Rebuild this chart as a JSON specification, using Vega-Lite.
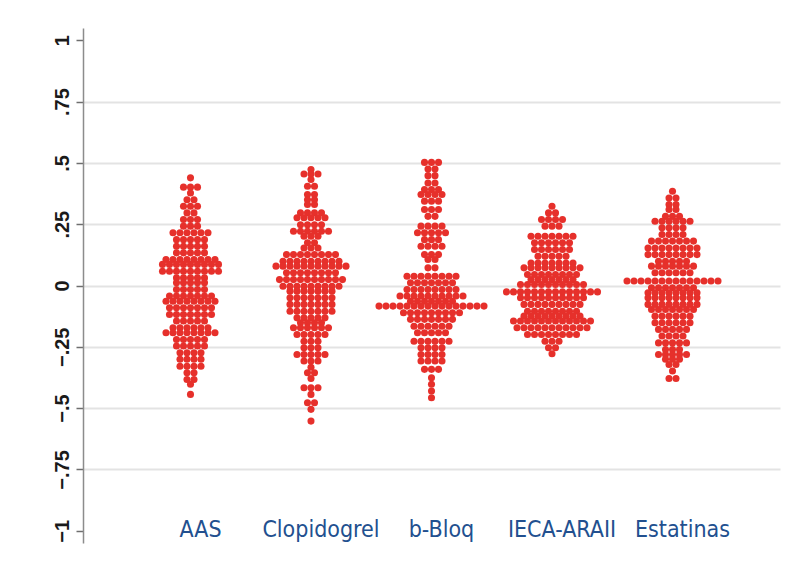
{
  "$schema": "https://vega.github.io/schema/vega-lite/v6.json",
  "autosize": {"type": "none"},
  "width": 697,
  "height": 515,
  "padding": {"left": 83, "top": 28, "right": 14, "bottom": 22},
  "background": "#ffffff",
  "datasets": {
    "AAS": [0.439,
      0.401,0.401,0.401,
      0.377,
      0.35,0.35,
      0.323,0.323,0.323,
      0.296,0.296,
      0.269,0.269,0.269,
      0.242,0.242,0.242,
      0.215,0.215,0.215,0.215,0.215,0.215,
      0.187,0.187,0.187,0.187,0.187,
      0.16,0.16,0.16,0.16,0.16,
      0.133,0.133,0.133,0.133,0.133,
      0.106,0.106,0.106,0.106,0.106,0.106,0.106,0.106,
      0.086,0.086,0.086,0.086,0.086,0.086,0.086,0.086,0.086,
      0.058,0.058,0.058,0.058,0.058,0.058,0.058,0.058,0.058,
      0.031,0.031,0.031,0.031,0.031,
      0.011,0.011,0.011,0.011,0.011,
      -0.016,-0.016,-0.016,-0.016,-0.016,
      -0.043,-0.043,-0.043,-0.043,-0.043,-0.043,-0.043,
      -0.064,-0.064,-0.064,-0.064,-0.064,-0.064,-0.064,-0.064,
      -0.091,-0.091,-0.091,-0.091,-0.091,-0.091,-0.091,
      -0.118,-0.118,-0.118,-0.118,-0.118,-0.118,-0.118,
      -0.145,-0.145,-0.145,-0.145,-0.145,
      -0.172,-0.172,-0.172,-0.172,-0.172,-0.172,
      -0.193,-0.193,-0.193,-0.193,-0.193,-0.193,-0.193,-0.193,
      -0.22,-0.22,-0.22,-0.22,-0.22,
      -0.247,-0.247,-0.247,-0.247,-0.247,
      -0.274,-0.274,-0.274,-0.274,
      -0.301,-0.301,-0.301,-0.301,
      -0.329,-0.329,-0.329,-0.329,
      -0.356,-0.356,
      -0.383,-0.383,
      -0.403,
      -0.444],
    "Clopidogrel": [0.473,
      0.455,0.455,0.455,
      0.432,
      0.405,0.405,
      0.371,0.371,
      0.35,0.35,
      0.33,0.33,
      0.296,0.296,0.296,0.296,
      0.276,0.276,0.276,0.276,0.276,
      0.248,0.248,0.248,0.248,
      0.221,0.221,0.221,0.221,0.221,0.221,
      0.201,0.201,0.201,
      0.174,0.174,
      0.153,0.153,0.153,
      0.126,0.126,0.126,0.126,0.126,0.126,0.126,0.126,
      0.099,0.099,0.099,0.099,0.099,0.099,0.099,0.099,0.099,
      0.079,0.079,0.079,0.079,0.079,0.079,0.079,0.079,0.079,0.079,0.079,
      0.052,0.052,0.052,0.052,0.052,0.052,0.052,0.052,
      0.024,0.024,0.024,0.024,0.024,0.024,0.024,0.024,0.024,0.024,
      -0.003,-0.003,-0.003,-0.003,-0.003,-0.003,-0.003,-0.003,-0.003,
      -0.023,-0.023,-0.023,-0.023,-0.023,-0.023,-0.023,
      -0.05,-0.05,-0.05,-0.05,-0.05,-0.05,-0.05,
      -0.077,-0.077,-0.077,-0.077,-0.077,-0.077,-0.077,
      -0.105,-0.105,-0.105,-0.105,-0.105,-0.105,-0.105,
      -0.132,-0.132,-0.132,-0.132,-0.132,
      -0.152,-0.152,-0.152,-0.152,
      -0.172,-0.172,-0.172,-0.172,-0.172,-0.172,
      -0.2,-0.2,-0.2,-0.2,-0.2,
      -0.227,-0.227,-0.227,
      -0.254,-0.254,-0.254,
      -0.281,-0.281,-0.281,-0.281,-0.281,
      -0.308,-0.308,-0.308,
      -0.333,
      -0.356,-0.356,
      -0.379,
      -0.417,-0.417,-0.417,
      -0.444,
      -0.478,-0.478,
      -0.505,
      -0.553],
    "bBloq": [0.502,0.502,0.502,
      0.475,0.475,
      0.448,0.448,
      0.418,0.418,
      0.391,0.391,0.391,
      0.371,0.371,0.371,0.371,
      0.344,0.344,0.344,
      0.31,0.31,0.31,
      0.282,0.282,
      0.242,0.242,0.242,0.242,
      0.215,0.215,0.215,0.215,0.215,
      0.187,0.187,0.187,
      0.16,0.16,0.16,0.16,
      0.126,0.126,0.126,
      0.106,0.106,
      0.072,0.072,
      0.038,0.038,0.038,0.038,0.038,0.038,0.038,0.038,
      0.011,0.011,0.011,0.011,0.011,0.011,0.011,
      -0.016,-0.016,-0.016,-0.016,-0.016,-0.016,-0.016,-0.016,
      -0.043,-0.043,-0.043,-0.043,-0.043,-0.043,-0.043,-0.043,-0.043,-0.043,
      -0.064,-0.064,-0.064,-0.064,-0.064,-0.064,-0.064,
      -0.084,-0.084,-0.084,-0.084,-0.084,-0.084,-0.084,-0.084,-0.084,-0.084,-0.084,-0.084,-0.084,-0.084,-0.084,-0.084,
      -0.111,-0.111,-0.111,-0.111,-0.111,-0.111,-0.111,-0.111,-0.111,
      -0.138,-0.138,-0.138,-0.138,-0.138,-0.138,-0.138,
      -0.166,-0.166,-0.166,-0.166,-0.166,-0.166,
      -0.193,-0.193,-0.193,-0.193,-0.193,
      -0.227,-0.227,-0.227,-0.227,-0.227,-0.227,
      -0.254,-0.254,-0.254,-0.254,
      -0.281,-0.281,-0.281,-0.281,
      -0.308,-0.308,-0.308,-0.308,
      -0.342,-0.342,-0.342,
      -0.376,
      -0.403,
      -0.43,
      -0.458],
    "IECA": [0.323,
      0.296,0.296,
      0.269,0.269,0.269,0.269,
      0.242,0.242,0.242,
      0.201,0.201,0.201,0.201,0.201,0.201,0.201,
      0.174,0.174,0.174,0.174,0.174,0.174,
      0.147,0.147,0.147,0.147,0.147,0.147,
      0.119,0.119,0.119,0.119,0.119,
      0.092,0.092,0.092,0.092,0.092,0.092,0.092,
      0.072,0.072,0.072,0.072,0.072,0.072,0.072,0.072,0.072,
      0.045,0.045,0.045,0.045,0.045,0.045,0.045,0.045,
      0.024,0.024,0.024,0.024,0.024,0.024,0.024,
      0.004,0.004,0.004,0.004,0.004,0.004,0.004,0.004,0.004,0.004,
      -0.026,-0.026,-0.026,-0.026,-0.026,-0.026,-0.026,-0.026,-0.026,-0.026,-0.026,-0.026,-0.026,-0.026,
      -0.05,-0.05,-0.05,-0.05,-0.05,-0.05,-0.05,-0.05,-0.05,-0.05,
      -0.077,-0.077,-0.077,-0.077,-0.077,-0.077,-0.077,-0.077,-0.077,
      -0.105,-0.105,-0.105,-0.105,-0.105,-0.105,-0.105,-0.105,
      -0.125,-0.125,-0.125,-0.125,-0.125,-0.125,-0.125,-0.125,-0.125,
      -0.145,-0.145,-0.145,-0.145,-0.145,-0.145,-0.145,-0.145,-0.145,-0.145,-0.145,-0.145,
      -0.172,-0.172,-0.172,-0.172,-0.172,-0.172,-0.172,-0.172,-0.172,-0.172,-0.172,
      -0.2,-0.2,-0.2,-0.2,-0.2,-0.2,-0.2,-0.2,
      -0.227,-0.227,-0.227,
      -0.254,-0.254,
      -0.278],
    "Estatinas": [0.384,
      0.357,0.357,
      0.33,0.33,
      0.31,0.31,
      0.282,0.282,0.282,
      0.262,0.262,0.262,0.262,0.262,0.262,
      0.235,0.235,0.235,0.235,
      0.208,0.208,0.208,0.208,
      0.181,0.181,0.181,0.181,0.181,0.181,0.181,
      0.153,0.153,0.153,0.153,0.153,0.153,0.153,0.153,
      0.126,0.126,0.126,0.126,0.126,0.126,0.126,0.126,
      0.099,0.099,0.099,0.099,0.099,
      0.079,0.079,0.079,0.079,0.079,0.079,0.079,
      0.052,0.052,0.052,0.052,0.052,0.052,
      0.018,0.018,0.018,0.018,0.018,0.018,0.018,0.018,0.018,0.018,0.018,0.018,0.018,0.018,
      -0.009,-0.009,-0.009,-0.009,-0.009,-0.009,-0.009,
      -0.03,-0.03,-0.03,-0.03,-0.03,-0.03,-0.03,-0.03,
      -0.05,-0.05,-0.05,-0.05,-0.05,-0.05,-0.05,-0.05,
      -0.077,-0.077,-0.077,-0.077,-0.077,-0.077,-0.077,-0.077,
      -0.098,-0.098,-0.098,-0.098,-0.098,-0.098,-0.098,
      -0.125,-0.125,-0.125,-0.125,-0.125,-0.125,
      -0.152,-0.152,-0.152,-0.152,-0.152,-0.152,
      -0.179,-0.179,-0.179,-0.179,-0.179,
      -0.206,-0.206,-0.206,-0.206,
      -0.234,-0.234,-0.234,-0.234,-0.234,
      -0.261,-0.261,-0.261,
      -0.281,-0.281,-0.281,-0.281,-0.281,
      -0.301,-0.301,-0.301,
      -0.322,-0.322,
      -0.349,
      -0.379,-0.379]
  },
  "layer": [
    {
      "encoding": {
        "y": {
          "field": "data",
          "type": "quantitative",
          "scale": {"domain": [-1.05, 1.05], "nice": false, "zero": false},
          "axis": {
            "values": [-1, -0.75, -0.5, -0.25, 0, 0.25, 0.5, 0.75, 1],
            "labelExpr": "replace(format(datum.value, '.2~f'), '0.', '.')",
            "labelAngle": -90,
            "labelFont": "Liberation Sans",
            "labelFontSize": 20,
            "labelFontWeight": "bold",
            "labelColor": "#1a1a1a",
            "labelPadding": 4,
            "tickSize": 7,
            "tickColor": "#6e6e6e",
            "tickWidth": 1.5,
            "domainColor": "#8c8c8c",
            "domainWidth": 1.5,
            "grid": true,
            "gridColor": "#e3e3e3",
            "gridWidth": 2,
            "gridOpacity": {"condition": {"test": "abs(datum.value) > 0.9", "value": 0}, "value": 1},
            "title": null
          }
        },
        "xOffset": {
          "field": "o",
          "type": "quantitative",
          "scale": {"domain": [-10, 10], "range": [-70, 70]}
        }
      },
      "layer": [
        {
          "data": {"name": "AAS"},
          "transform": [
            {"window": [{"op": "row_number", "as": "r"}, {"op": "count", "as": "n"}], "groupby": ["data"], "frame": [null, null]},
            {"calculate": "datum.r - (datum.n + 1) / 2", "as": "o"}
          ],
          "mark": {"type": "circle"},
          "encoding": {"x": {"datum": "AAS", "type": "nominal", "scale": {"type": "point", "domain": ["AAS", "Clopidogrel", "b-Bloq", "IECA-ARAII", "Estatinas"], "padding": 0.892}, "axis": null}}
        },
        {
          "data": {"name": "Clopidogrel"},
          "transform": [
            {"window": [{"op": "row_number", "as": "r"}, {"op": "count", "as": "n"}], "groupby": ["data"], "frame": [null, null]},
            {"calculate": "datum.r - (datum.n + 1) / 2", "as": "o"}
          ],
          "mark": {"type": "circle"},
          "encoding": {"x": {"datum": "Clopidogrel", "type": "nominal", "axis": null}}
        },
        {
          "data": {"name": "bBloq"},
          "transform": [
            {"window": [{"op": "row_number", "as": "r"}, {"op": "count", "as": "n"}], "groupby": ["data"], "frame": [null, null]},
            {"calculate": "datum.r - (datum.n + 1) / 2", "as": "o"}
          ],
          "mark": {"type": "circle"},
          "encoding": {"x": {"datum": "b-Bloq", "type": "nominal", "axis": null}}
        },
        {
          "data": {"name": "IECA"},
          "transform": [
            {"window": [{"op": "row_number", "as": "r"}, {"op": "count", "as": "n"}], "groupby": ["data"], "frame": [null, null]},
            {"calculate": "datum.r - (datum.n + 1) / 2", "as": "o"}
          ],
          "mark": {"type": "circle"},
          "encoding": {"x": {"datum": "IECA-ARAII", "type": "nominal", "axis": null}}
        },
        {
          "data": {"name": "Estatinas"},
          "transform": [
            {"window": [{"op": "row_number", "as": "r"}, {"op": "count", "as": "n"}], "groupby": ["data"], "frame": [null, null]},
            {"calculate": "datum.r - (datum.n + 1) / 2", "as": "o"}
          ],
          "mark": {"type": "circle"},
          "encoding": {"x": {"datum": "Estatinas", "type": "nominal", "axis": null}}
        }
      ]
    },
    {
      "data": {"values": [{"g": "AAS"}, {"g": "Clopidogrel"}, {"g": "b-Bloq"}, {"g": "IECA-ARAII"}, {"g": "Estatinas"}]},
      "mark": {"type": "text", "font": "DejaVu Sans Condensed", "fontSize": 23, "color": "#22508f", "baseline": "alphabetic", "align": "center", "dx": 10, "dy": 6},
      "encoding": {
        "x": {"field": "g", "type": "nominal", "axis": null},
        "y": {"datum": -1, "type": "quantitative"},
        "text": {"field": "g"}
      }
    }
  ],
  "config": {
    "view": {"stroke": null},
    "axisY": {"labelFontSize": 20},
    "circle": {"size": 50, "color": "#e6302b", "opacity": 1}
  }
}
